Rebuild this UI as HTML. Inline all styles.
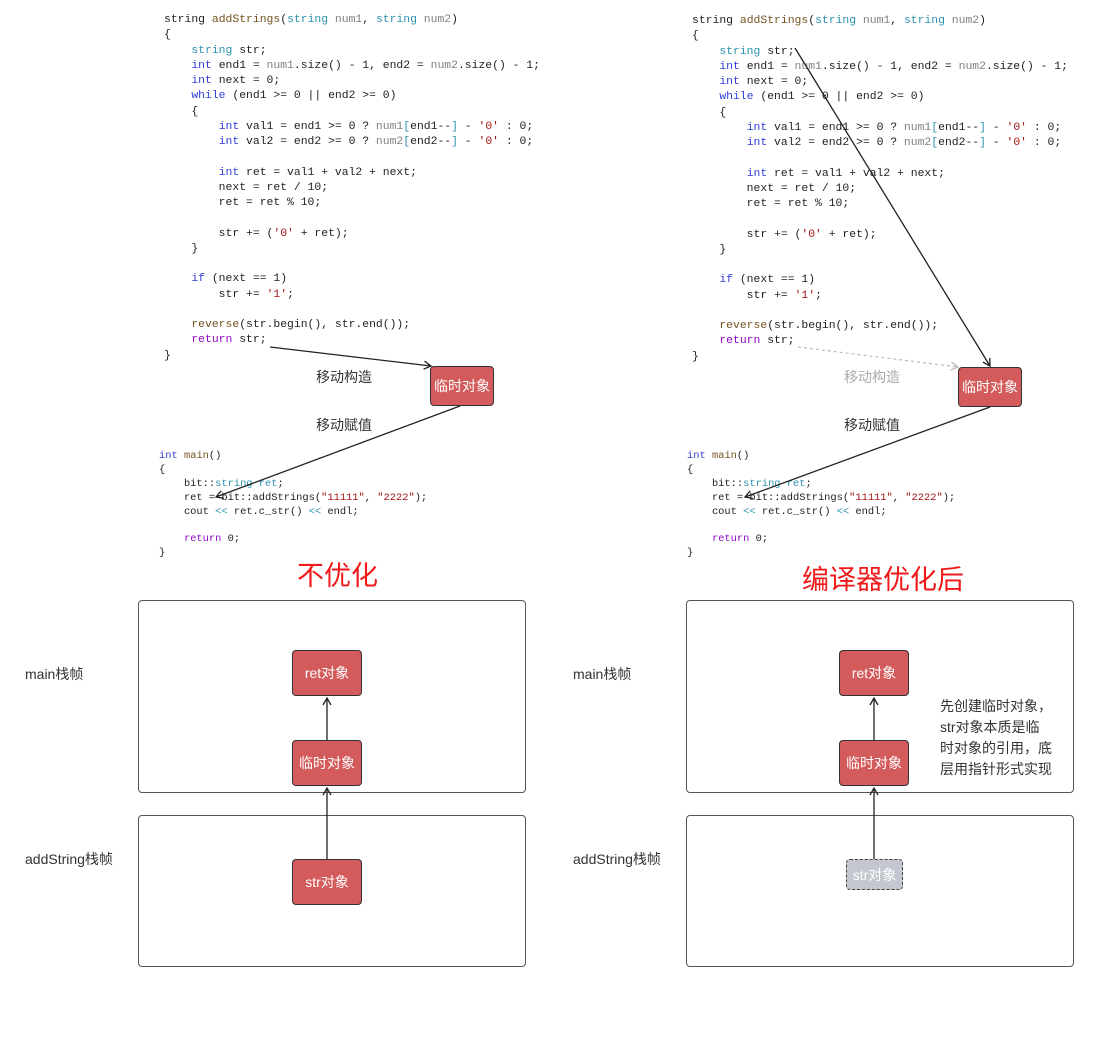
<!DOCTYPE html>
<html><head><meta charset="utf-8"><style>
html,body{margin:0;padding:0;background:#fff;}
body{width:1099px;height:1039px;position:relative;overflow:hidden;font-family:"Liberation Sans","Noto Sans CJK SC",sans-serif;}
pre{position:absolute;margin:0;font-family:"Liberation Mono",monospace;color:#1e1e1e;}
.c1{font-size:11.4px;line-height:15.25px;}
.c2{font-size:10.4px;line-height:13.9px;}
.k{color:#2f3fd6}.t{color:#2b91af}.f{color:#74531f}.p{color:#808080}.s{color:#a31515}.r{color:#8f08c4}
.lbl{position:absolute;font-size:14px;color:#333;white-space:nowrap;}
.box{position:absolute;background:#d45b5b;border:1.5px solid #333;border-radius:4px;color:#fff;font-size:14px;display:flex;align-items:center;justify-content:center;box-sizing:border-box;}
.frame{position:absolute;border:1.5px solid #555;border-radius:4px;box-sizing:border-box;}
.title{position:absolute;color:#f01818;font-size:27px;white-space:nowrap;}
</style></head><body>

<pre class="c1" style="left:164px;top:13px;">string <span class="f">addStrings</span>(<span class="t">string</span> <span class="p">num1</span>, <span class="t">string</span> <span class="p">num2</span>)
{
    <span class="t">string</span> str;
    <span class="k">int</span> end1 = <span class="p">num1</span>.size() - 1, end2 = <span class="p">num2</span>.size() - 1;
    <span class="k">int</span> next = 0;
    <span class="k">while</span> (end1 &gt;= 0 || end2 &gt;= 0)
    {
        <span class="k">int</span> val1 = end1 &gt;= 0 ? <span class="p">num1</span><span class="t">[</span>end1--<span class="t">]</span> - <span class="s">'0'</span> : 0;
        <span class="k">int</span> val2 = end2 &gt;= 0 ? <span class="p">num2</span><span class="t">[</span>end2--<span class="t">]</span> - <span class="s">'0'</span> : 0;

        <span class="k">int</span> ret = val1 + val2 + next;
        next = ret / 10;
        ret = ret % 10;

        str += (<span class="s">'0'</span> + ret);
    }

    <span class="k">if</span> (next == 1)
        str += <span class="s">'1'</span>;

    <span class="f">reverse</span>(str.begin(), str.end());
    <span class="r">return</span> str;
}</pre>

<pre class="c1" style="left:692px;top:14px;">string <span class="f">addStrings</span>(<span class="t">string</span> <span class="p">num1</span>, <span class="t">string</span> <span class="p">num2</span>)
{
    <span class="t">string</span> str;
    <span class="k">int</span> end1 = <span class="p">num1</span>.size() - 1, end2 = <span class="p">num2</span>.size() - 1;
    <span class="k">int</span> next = 0;
    <span class="k">while</span> (end1 &gt;= 0 || end2 &gt;= 0)
    {
        <span class="k">int</span> val1 = end1 &gt;= 0 ? <span class="p">num1</span><span class="t">[</span>end1--<span class="t">]</span> - <span class="s">'0'</span> : 0;
        <span class="k">int</span> val2 = end2 &gt;= 0 ? <span class="p">num2</span><span class="t">[</span>end2--<span class="t">]</span> - <span class="s">'0'</span> : 0;

        <span class="k">int</span> ret = val1 + val2 + next;
        next = ret / 10;
        ret = ret % 10;

        str += (<span class="s">'0'</span> + ret);
    }

    <span class="k">if</span> (next == 1)
        str += <span class="s">'1'</span>;

    <span class="f">reverse</span>(str.begin(), str.end());
    <span class="r">return</span> str;
}</pre>

<pre class="c2" style="left:159px;top:450px;"><span class="k">int</span> <span class="f">main</span>()
{
    bit::<span class="t">string</span> <span class="t">ret</span>;
    ret = bit::addStrings(<span class="s">"11111"</span>, <span class="s">"2222"</span>);
    cout <span class="t">&lt;&lt;</span> ret.c_str() <span class="t">&lt;&lt;</span> endl;

    <span class="r">return</span> 0;
}</pre>
<pre class="c2" style="left:687px;top:450px;"><span class="k">int</span> <span class="f">main</span>()
{
    bit::<span class="t">string</span> <span class="t">ret</span>;
    ret = bit::addStrings(<span class="s">"11111"</span>, <span class="s">"2222"</span>);
    cout <span class="t">&lt;&lt;</span> ret.c_str() <span class="t">&lt;&lt;</span> endl;

    <span class="r">return</span> 0;
}</pre>

<div class="lbl" style="left:316px;top:367px;">移动构造</div>
<div class="lbl" style="left:316px;top:415px;">移动赋值</div>
<div class="lbl" style="left:844px;top:367px;color:#aaa;">移动构造</div>
<div class="lbl" style="left:844px;top:415px;">移动赋值</div>

<div class="box" style="left:430px;top:366px;width:64px;height:40px;">临时对象</div>
<div class="box" style="left:958px;top:367px;width:64px;height:40px;">临时对象</div>

<div class="title" style="left:297px;top:554px;">不优化</div>
<div class="title" style="left:802px;top:558px;">编译器优化后</div>

<div class="frame" style="left:138px;top:600px;width:388px;height:193px;"></div>
<div class="frame" style="left:138px;top:815px;width:388px;height:152px;"></div>
<div class="frame" style="left:686px;top:600px;width:388px;height:193px;"></div>
<div class="frame" style="left:686px;top:815px;width:388px;height:152px;"></div>

<div class="lbl" style="left:25px;top:664px;">main栈帧</div>
<div class="lbl" style="left:25px;top:849px;">addString栈帧</div>
<div class="lbl" style="left:573px;top:664px;">main栈帧</div>
<div class="lbl" style="left:573px;top:849px;">addString栈帧</div>

<div class="box" style="left:292px;top:650px;width:70px;height:46px;">ret对象</div>
<div class="box" style="left:292px;top:740px;width:70px;height:46px;">临时对象</div>
<div class="box" style="left:292px;top:859px;width:70px;height:46px;">str对象</div>
<div class="box" style="left:839px;top:650px;width:70px;height:46px;">ret对象</div>
<div class="box" style="left:839px;top:740px;width:70px;height:46px;">临时对象</div>
<div class="box" style="left:846px;top:859px;width:57px;height:31px;background:#c4c7cf;border:1.5px dashed #444;color:#fff;">str对象</div>

<div class="lbl" style="left:940px;top:696px;line-height:21px;font-size:14px;">先创建临时对象，<br>str对象本质是临<br>时对象的引用，底<br>层用指针形式实现</div>

<svg width="1099" height="1039" style="position:absolute;left:0;top:0;" xmlns="http://www.w3.org/2000/svg">
<defs>
<marker id="a" markerWidth="10" markerHeight="10" refX="8" refY="5" orient="auto" markerUnits="userSpaceOnUse"><path d="M1,1 L8,5 L1,9" fill="none" stroke="#222" stroke-width="1.3"/></marker>
<marker id="g" markerWidth="10" markerHeight="10" refX="8" refY="5" orient="auto" markerUnits="userSpaceOnUse"><path d="M1,1 L8,5 L1,9" fill="none" stroke="#bbb" stroke-width="1.3"/></marker>
</defs>
<g stroke="#222" stroke-width="1.3" fill="none">
<line x1="270" y1="347" x2="431" y2="366" marker-end="url(#a)"/>
<line x1="460" y1="406" x2="216" y2="497" marker-end="url(#a)"/>
<line x1="795" y1="48" x2="990" y2="366" marker-end="url(#a)"/>
<line x1="990" y1="407" x2="745" y2="497" marker-end="url(#a)"/>
<line x1="327" y1="740" x2="327" y2="698" marker-end="url(#a)"/>
<line x1="327" y1="859" x2="327" y2="788" marker-end="url(#a)"/>
<line x1="874" y1="740" x2="874" y2="698" marker-end="url(#a)"/>
<line x1="874" y1="859" x2="874" y2="788" marker-end="url(#a)"/>
</g>
<line x1="798" y1="347" x2="958" y2="367" stroke="#bbb" stroke-width="1.2" stroke-dasharray="3,3" marker-end="url(#g)"/>
</svg>
</body></html>
